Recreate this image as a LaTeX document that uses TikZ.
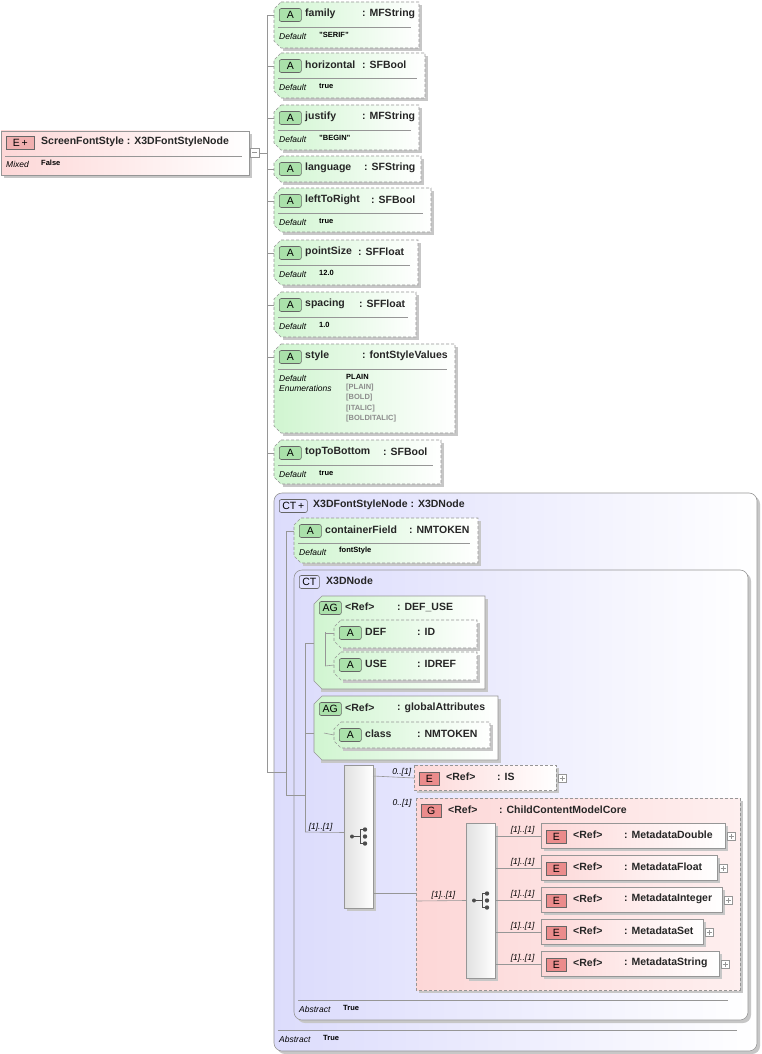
\documentclass[tikz,border=0pt]{standalone}
\usepackage{fontspec}
\setmainfont{Liberation Sans}
\usetikzlibrary{positioning}

\definecolor{attrgreen}{RGB}{208,245,208}
\definecolor{badgegreen}{RGB}{170,225,170}
\definecolor{elpink}{RGB}{253,215,215}
\definecolor{badgered}{RGB}{235,140,140}
\definecolor{ctblue}{RGB}{220,220,252}
\definecolor{edge}{RGB}{150,150,150}

\tikzset{
  conn/.style={draw=edge, line width=0.6pt},
  dashbox/.style={draw=edge, dashed, dash pattern=on 3pt off 2pt, line width=0.6pt},
  solidbox/.style={draw=edge, line width=0.6pt},
  shadow/.style={fill=black!22, draw=none},
  badge/.style={draw=black!60, rounded corners=2pt, line width=0.6pt, font=\fontsize{10.5}{11}\selectfont, inner sep=0pt, minimum height=13pt, anchor=west},
  lbl/.style={font=\bfseries\fontsize{10.5}{12}\selectfont, anchor=west, inner sep=0pt, text=black!85},
  key/.style={font=\itshape\fontsize{8.5}{9}\selectfont, anchor=west, inner sep=0pt},
  val/.style={font=\bfseries\fontsize{7.5}{8}\selectfont, anchor=west, inner sep=0pt},
  card/.style={font=\itshape\fontsize{8.5}{9}\selectfont, inner sep=1pt, anchor=south},
}

% attribute box: id, x, top, right, bottom, name, type column, type, default
\newcommand\attr[9]{%
  \fill[shadow] (#2+9,#3+3) -- (#4+3,#3+3) -- (#4+3,#5+3) -- (#2+9,#5+3) -- cycle;
  \path[dashbox, left color=attrgreen, right color=white]
    (#2+7,#3) -- (#4,#3) -- (#4,#5) -- (#2+7,#5) -- (#2,#5-7) -- (#2,#3+7) -- cycle;
  \node[badge, fill=badgegreen, minimum width=22pt] at (#2+5,#3+13) {A};
  \node[lbl] at (#2+31,#3+12) {#6};
  \node[lbl] at (#7,#3+12) {: #8};
  \coordinate (#1) at (#2,#3+13);
  \if\relax\detokenize{#9}\relax\else
    \draw[edge, line width=0.5pt] (#2+4,#3+25) -- (#4-8,#3+25);
    \node[key] at (#2+5,#3+34) {Default};
    \node[val] at (#2+45,#3+33) {#9};
  \fi
}

% element box: id, x, top, right, name, type column, type, style
\newcommand\elem[8]{%
  \fill[shadow] (#2+3,#3+3) rectangle (#4+3,#3+28);
  \path[#8, left color=elpink, right color=white] (#2,#3) rectangle (#4,#3+25);
  \node[badge, fill=badgered, rounded corners=0pt, minimum width=20pt] at (#2+5,#3+14) {E};
  \node[lbl] at (#2+32,#3+12) {#5};
  \node[lbl] at (#6,#3+12) {: #7};
  \draw[edge, line width=0.4pt, fill=white] (#4+2,#3+9) rectangle (#4+10,#3+17);
  \draw[edge, line width=0.4pt] (#4+3.5,#3+13) -- (#4+8.5,#3+13) (#4+6,#3+10.5) -- (#4+6,#3+15.5);
  \coordinate (#1) at (#2,#3+13);
}

% sequence compositor: id, x, top, bottom
\newcommand\seq[4]{%
  \fill[shadow] (#2+3,#3+3) rectangle (#2+32,#4+3);
  \path[solidbox, left color=black!12, right color=white] (#2,#3) rectangle (#2+29,#4);
  \coordinate (#1) at (#2,{(#3+#4)/2});
  \fill[black!70] (#2+8,{(#3+#4)/2}) circle (2pt) (#2+21,{(#3+#4)/2-7}) circle (2.2pt)
    (#2+21,{(#3+#4)/2}) circle (2.2pt) (#2+21,{(#3+#4)/2+7}) circle (2.2pt);
  \draw[black!70, line width=0.9pt] (#2+8,{(#3+#4)/2}) -- (#2+16,{(#3+#4)/2})
    (#2+16,{(#3+#4)/2-7}) -- (#2+16,{(#3+#4)/2+7})
    (#2+16,{(#3+#4)/2-7}) -- (#2+21,{(#3+#4)/2-7}) (#2+16,{(#3+#4)/2+7}) -- (#2+21,{(#3+#4)/2+7});
}

\begin{document}
\begin{tikzpicture}[x=1pt, y=-1pt]
\useasboundingbox[fill=white] (0,0) rectangle (761,1054);

% root element
\fill[shadow] (4,134) rectangle (252,178);
\path[solidbox, left color=elpink, right color=white] (1,131) rectangle (249,175);
\node[badge, fill=badgered!70, rounded corners=0pt, minimum width=28pt] at (6,143) {E\,+};
\node[lbl] at (41,142) {ScreenFontStyle : X3DFontStyleNode};
\draw[edge, line width=0.5pt] (5,156) -- (242,156);
\node[key] at (6,164) {Mixed};
\node[val] at (41,163) {False};
\draw[edge, line width=0.4pt, fill=white] (250,148) rectangle (259,157);
\draw[edge, line width=0.4pt] (252,152.5) -- (257,152.5);
\coordinate (root) at (259,153);

% top level attributes
\attr{family}{274}{2}{419}{48}{family}{362}{MFString}{"SERIF"}
\attr{horizontal}{274}{53}{425}{98}{horizontal}{362}{SFBool}{true}
\attr{justify}{274}{105}{419}{150}{justify}{362}{MFString}{"BEGIN"}
\attr{language}{274}{156}{421}{182}{language}{364}{SFString}{}
\attr{leftToRight}{274}{188}{431}{232}{leftToRight}{371}{SFBool}{true}
\attr{pointSize}{274}{240}{418}{285}{pointSize}{358}{SFFloat}{12.0}
\attr{spacing}{274}{292}{416}{337}{spacing}{359}{SFFloat}{1.0}
\attr{style}{274}{344}{455}{433}{style}{362}{fontStyleValues}{}
\draw[edge, line width=0.5pt] (278,369) -- (447,369);
\node[key] at (279,378) {Default};
\node[val] at (346,377) {PLAIN};
\node[key] at (279,388) {Enumerations};
\foreach \v [count=\i] in {[PLAIN],[BOLD],[ITALIC],[BOLDITALIC]}
  \node[val, text=black!45] at (346,377+10.5*\i) {\v};
\attr{topToBottom}{274}{440}{441}{484}{topToBottom}{383}{SFBool}{true}

% complex type X3DFontStyleNode
\fill[shadow] (277,496) [rounded corners=8pt] rectangle (760,1054);
\path[solidbox, rounded corners=8pt, left color=ctblue, right color=white] (274,493) rectangle (757,1051);
\node[badge, fill=ctblue!80!blue!40, minimum width=28pt] at (279,506) {CT\,+};
\node[lbl] at (313,505) {X3DFontStyleNode : X3DNode};
\coordinate (ctouter) at (274,772);
\attr{containerField}{294}{518}{478}{563}{containerField}{409}{NMTOKEN}{fontStyle}
\draw[edge, line width=0.5pt] (278,1030) -- (737,1030);
\node[key] at (279,1039) {Abstract};
\node[val] at (323,1038) {True};

% complex type X3DNode
\fill[shadow] (297,573) [rounded corners=8pt] rectangle (751,1023);
\path[solidbox, rounded corners=8pt, left color=ctblue, right color=white] (294,570) rectangle (748,1020);
\node[badge, fill=ctblue!80!blue!40, minimum width=20pt] at (299,582) {CT};
\node[lbl] at (326,581) {X3DNode};
\draw[edge, line width=0.5pt] (298,1000) -- (728,1000);
\node[key] at (299,1009) {Abstract};
\node[val] at (343,1008) {True};

% attribute groups
\fill[shadow] (321,599) -- (488,599) -- (488,692) -- (321,692) -- cycle;
\path[solidbox, left color=attrgreen, right color=white]
  (322,596) -- (485,596) -- (485,689) -- (322,689) -- (314,681) -- (314,604) -- cycle;
\node[badge, fill=badgegreen, minimum width=22pt] at (319,608) {AG};
\node[lbl] at (345,607) {<Ref>};
\node[lbl] at (397,607) {: DEF\_USE};
\coordinate (defuse) at (314,643);
\attr{DEF}{334}{620}{477}{648}{DEF}{417}{ID}{}
\attr{USE}{334}{652}{477}{680}{USE}{417}{IDREF}{}

\fill[shadow] (321,699) -- (501,699) -- (501,763) -- (321,763) -- cycle;
\path[solidbox, left color=attrgreen, right color=white]
  (322,696) -- (498,696) -- (498,760) -- (322,760) -- (314,752) -- (314,704) -- cycle;
\node[badge, fill=badgegreen, minimum width=22pt] at (319,709) {AG};
\node[lbl] at (345,708) {<Ref>};
\node[lbl] at (397,708) {: globalAttributes};
\coordinate (global) at (314,733);
\attr{class}{334}{722}{490}{748}{class}{417}{NMTOKEN}{}

% content model
\seq{seqA}{344}{765}{908}
\elem{IS}{414}{765}{556}{<Ref>}{497}{IS}{dashbox}

\fill[shadow] (419,801) rectangle (743,993);
\path[dashbox, left color=elpink, right color=elpink!40] (416,798) rectangle (740,990);
\node[badge, fill=badgered, rounded corners=0pt, minimum width=20pt] at (421,811) {G};
\node[lbl] at (448,810) {<Ref>};
\node[lbl] at (499,810) {: ChildContentModelCore};
\coordinate (group) at (416,901);
\seq{seqB}{466}{823}{978}
\elem{mDouble}{541}{823}{725}{<Ref>}{624}{MetadataDouble}{solidbox}
\elem{mFloat}{541}{855}{717}{<Ref>}{624}{MetadataFloat}{solidbox}
\elem{mInteger}{541}{887}{722}{<Ref>}{624}{MetadataInteger}{solidbox}
\elem{mSet}{541}{919}{703}{<Ref>}{624}{MetadataSet}{solidbox}
\elem{mString}{541}{951}{719}{<Ref>}{624}{MetadataString}{solidbox}

% connectors
\coordinate (trunk) at (267,153);
\draw[conn] (root) -- (trunk);
\draw[conn] (267,25) -- (267,772) -- (ctouter);
\foreach \a in {family,horizontal,justify,language,leftToRight,pointSize,spacing,style,topToBottom}
  \draw[conn] (\a) -| (trunk);
\draw[conn] (ctouter) -- (286,772) |- (containerField);
\draw[conn] (286,772) |- (305,795);
\draw[conn] (305,643) -- (305,832);
\draw[conn] (defuse) -- (305,643);
\draw[conn] (global) -- (305,733);
\draw[conn] (325,632) -- (325,666);
\draw[conn] (DEF) -| (325,666);
\draw[conn] (USE) -- (325,666);
\draw[conn] (class) -- (324,733);
\draw[conn] (seqA) ++(0,-4) -- node[card, pos=0.6]{[1]..[1]} (305,832);
\draw[conn] (373,776) -- node[card, pos=0.7]{0..[1]} (IS);
\draw[conn] (373,893) -- (416,893);
\node[card] at (402,808) {0..[1]};
\draw[conn] (group) -- node[card, pos=0.55]{[1]..[1]} (seqB);
\foreach \e/\yy in {mDouble/836,mFloat/868,mInteger/900,mSet/932,mString/964}
  \draw[conn] (495,\yy) -- node[card, pos=0.6]{[1]..[1]} (\e);
\end{tikzpicture}
\end{document}
